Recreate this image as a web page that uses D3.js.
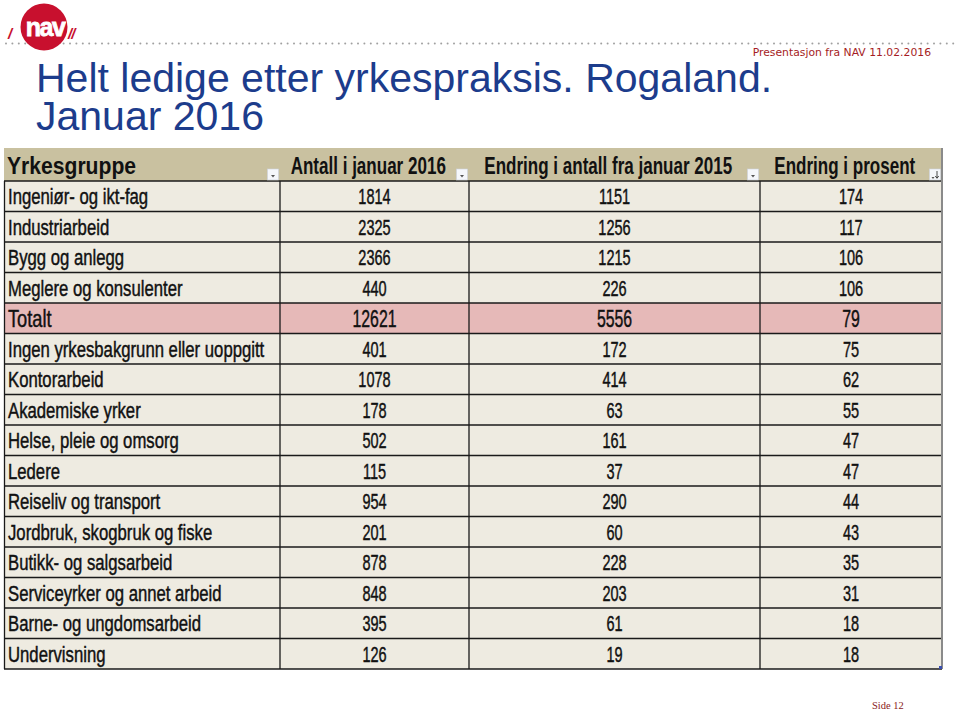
<!DOCTYPE html>
<html><head><meta charset="utf-8">
<script src="https://cdn.jsdelivr.net/npm/d3@7"></script>
<style>
html,body{margin:0;padding:0;background:#fff;}
svg{display:block;}
</style></head>
<body>
<script>
const headers = ["Yrkesgruppe","Antall i januar 2016","Endring i antall fra januar 2015","Endring i prosent"];
const categories = ["Ingeniør- og ikt-fag","Industriarbeid","Bygg og anlegg","Meglere og konsulenter","Totalt","Ingen yrkesbakgrunn eller uoppgitt","Kontorarbeid","Akademiske yrker","Helse, pleie og omsorg","Ledere","Reiseliv og transport","Jordbruk, skogbruk og fiske","Butikk- og salgsarbeid","Serviceyrker og annet arbeid","Barne- og ungdomsarbeid","Undervisning"];
const antall = [1814,2325,2366,440,12621,401,1078,178,502,115,954,201,878,848,395,126];
const endring = [1151,1256,1215,226,5556,172,414,63,161,37,290,60,228,203,61,19];
const prosent = [174,117,106,106,79,75,62,55,47,47,44,43,35,31,18,18];

const W = 960, H = 713;
const svg = d3.select("body").append("svg").attr("width", W).attr("height", H);
const FONT = "'Liberation Sans',Arial,sans-serif";

// condensed text helper (no narrow font installed)
function ctext(parent, tx, ty, anchor, size, weight, sx, str, extra) {
  const t = parent.append("text")
    .attr("transform", `translate(${tx},${ty}) scale(${sx},1)`)
    .attr("text-anchor", anchor)
    .attr("font-family", FONT).attr("font-weight", weight)
    .attr("font-size", size).attr("fill", "#111")
    .text(str);
  if (extra) t.attr("stroke", "#111").attr("stroke-width", extra);
  return t;
}

// --- logo & top decoration
const dots = d3.range(6, 958, 6.4);
svg.append("g").selectAll("circle").data(dots).join("circle")
  .attr("cx", d => d).attr("cy", 43.5).attr("r", 1).attr("fill", "#a0a0a0");
svg.append("circle").attr("cx", 44).attr("cy", 27).attr("r", 23.5).attr("fill", "#c8102e");
svg.append("text").attr("x", 45).attr("y", 36).attr("text-anchor", "middle")
  .attr("font-family", FONT).attr("font-weight", "bold")
  .attr("font-size", 25).attr("fill", "#fff").attr("letter-spacing", -1.5)
  .attr("stroke", "#fff").attr("stroke-width", 0.8).text("nav");
svg.append("text").attr("x", 8).attr("y", 39).attr("font-family", FONT)
  .attr("font-weight", "bold").attr("font-style", "italic").attr("font-size", 15).attr("fill", "#c8102e").text("/");
svg.append("text").attr("x", 68).attr("y", 39).attr("font-family", FONT)
  .attr("font-weight", "bold").attr("font-style", "italic").attr("font-size", 15).attr("fill", "#c8102e").attr("letter-spacing", -1).text("//");

svg.append("text").attr("x", 931).attr("y", 56).attr("text-anchor", "end")
  .attr("font-family", "'DejaVu Sans',Verdana,sans-serif").attr("font-size", 10.8).attr("fill", "#a51c24")
  .text("Presentasjon  fra NAV  11.02.2016");

// --- title
const title = svg.append("text").attr("font-family", FONT)
  .attr("font-size", 41).attr("fill", "#1c3c8c");
title.append("tspan").attr("x", 36).attr("y", 92).text("Helt ledige etter yrkespraksis. Rogaland.");
title.append("tspan").attr("x", 36).attr("y", 130).text("Januar 2016");

// --- table
const colEdges = [4, 280, 469, 760, 942];
const x = d3.scaleOrdinal().domain([0,1,2,3]).range(colEdges.slice(0,4));
const xEnd = d3.scaleOrdinal().domain([0,1,2,3]).range(colEdges.slice(1));
const headTop = 148, headBottom = 181, tableBottom = 669;
const y = d3.scaleBand().domain(d3.range(categories.length)).range([headBottom, tableBottom]);

const g = svg.append("g");
g.append("rect").attr("x", colEdges[0]).attr("y", headTop).attr("width", colEdges[4]-colEdges[0])
  .attr("height", headBottom-headTop).attr("fill", "#c9c1a0");
const rows = g.selectAll("g.row").data(categories.map((c,i)=>({c, i, vals:[c, antall[i], endring[i], prosent[i]]})))
  .join("g").attr("class","row");
rows.append("rect").attr("x", colEdges[0]).attr("y", d => y(d.i)).attr("width", colEdges[4]-colEdges[0])
  .attr("height", y.bandwidth()).attr("fill", d => d.c === "Totalt" ? "#e6b9b8" : "#eeebe1");

// grid lines
g.selectAll("line.h").data(d3.range(categories.length+1)).join("line")
  .attr("x1", colEdges[0]).attr("x2", colEdges[4])
  .attr("y1", d => d === categories.length ? tableBottom : y(d)).attr("y2", d => d === categories.length ? tableBottom : y(d))
  .attr("stroke", "#1a1a1a").attr("stroke-width", 1.3);
g.selectAll("line.v").data([1,2,3]).join("line")
  .attr("x1", d => colEdges[d]).attr("x2", d => colEdges[d])
  .attr("y1", headBottom).attr("y2", tableBottom).attr("stroke", "#1a1a1a").attr("stroke-width", 1.3);
g.append("line").attr("x1", colEdges[0]+0.5).attr("x2", colEdges[0]+0.5).attr("y1", headBottom).attr("y2", tableBottom)
  .attr("stroke", "#1a1a1a").attr("stroke-width", 1.3);
g.append("line").attr("x1", colEdges[4]).attr("x2", colEdges[4]).attr("y1", headTop).attr("y2", tableBottom)
  .attr("stroke", "#8a8a8a").attr("stroke-width", 2);
g.append("rect").attr("x", colEdges[4]-3).attr("y", tableBottom-3).attr("width", 3).attr("height", 3).attr("fill", "#3a4fb0");

// header buttons + header text
const btnW = 11, btnH = 11;
const headScale = [0.88, 0.71, 0.71, 0.71];
headers.forEach((h, j) => {
  const bx = xEnd(j) - btnW - 1.5;
  g.append("rect").attr("x", bx).attr("y", headBottom - btnH - 1).attr("width", btnW).attr("height", btnH)
    .attr("fill", "#f5f7fb").attr("stroke", "#cdd3de").attr("stroke-width", 0.6);
  if (j < 3) {
    g.append("path").attr("d", `M${bx+3.5},${headBottom-6} l4,0 l-2,2.5 z`).attr("fill", "#555");
  } else {
    g.append("path").attr("d", `M${bx+2},${headBottom-4} l3,0 l-1.5,2 z`).attr("fill", "#555");
    g.append("path").attr("d", `M${bx+7.5},${headBottom-10} l0,7 M${bx+5.8},${headBottom-5} l1.7,2.3 l1.7,-2.3`)
      .attr("stroke", "#333").attr("stroke-width", 0.9).attr("fill", "none");
  }
  const tx = j === 0 ? x(j) + 3 : (x(j) + bx) / 2;
  ctext(g, tx, 174, j === 0 ? "start" : "middle", 24, "bold", headScale[j], h);
});

// cell text
rows.each(function(d) {
  const r = d3.select(this);
  const tot = d.c === "Totalt";
  d.vals.forEach((v, j) => {
    const size = tot ? 24 : 22;
    ctext(r, j === 0 ? x(j) + 4 : (x(j) + xEnd(j)) / 2,
      y(d.i) + y.bandwidth()/2 + (tot ? 8.5 : 8),
      j === 0 ? "start" : "middle", size, "normal", j === 0 ? 0.76 : 0.66, v, 0.45);
  });
});

// footer
svg.append("text").attr("x", 872).attr("y", 709).attr("font-family", "'Liberation Serif','Times New Roman',serif")
  .attr("font-size", 10.5).attr("fill", "#8b1a1a").text("Side  12");
</script>
</body></html>
